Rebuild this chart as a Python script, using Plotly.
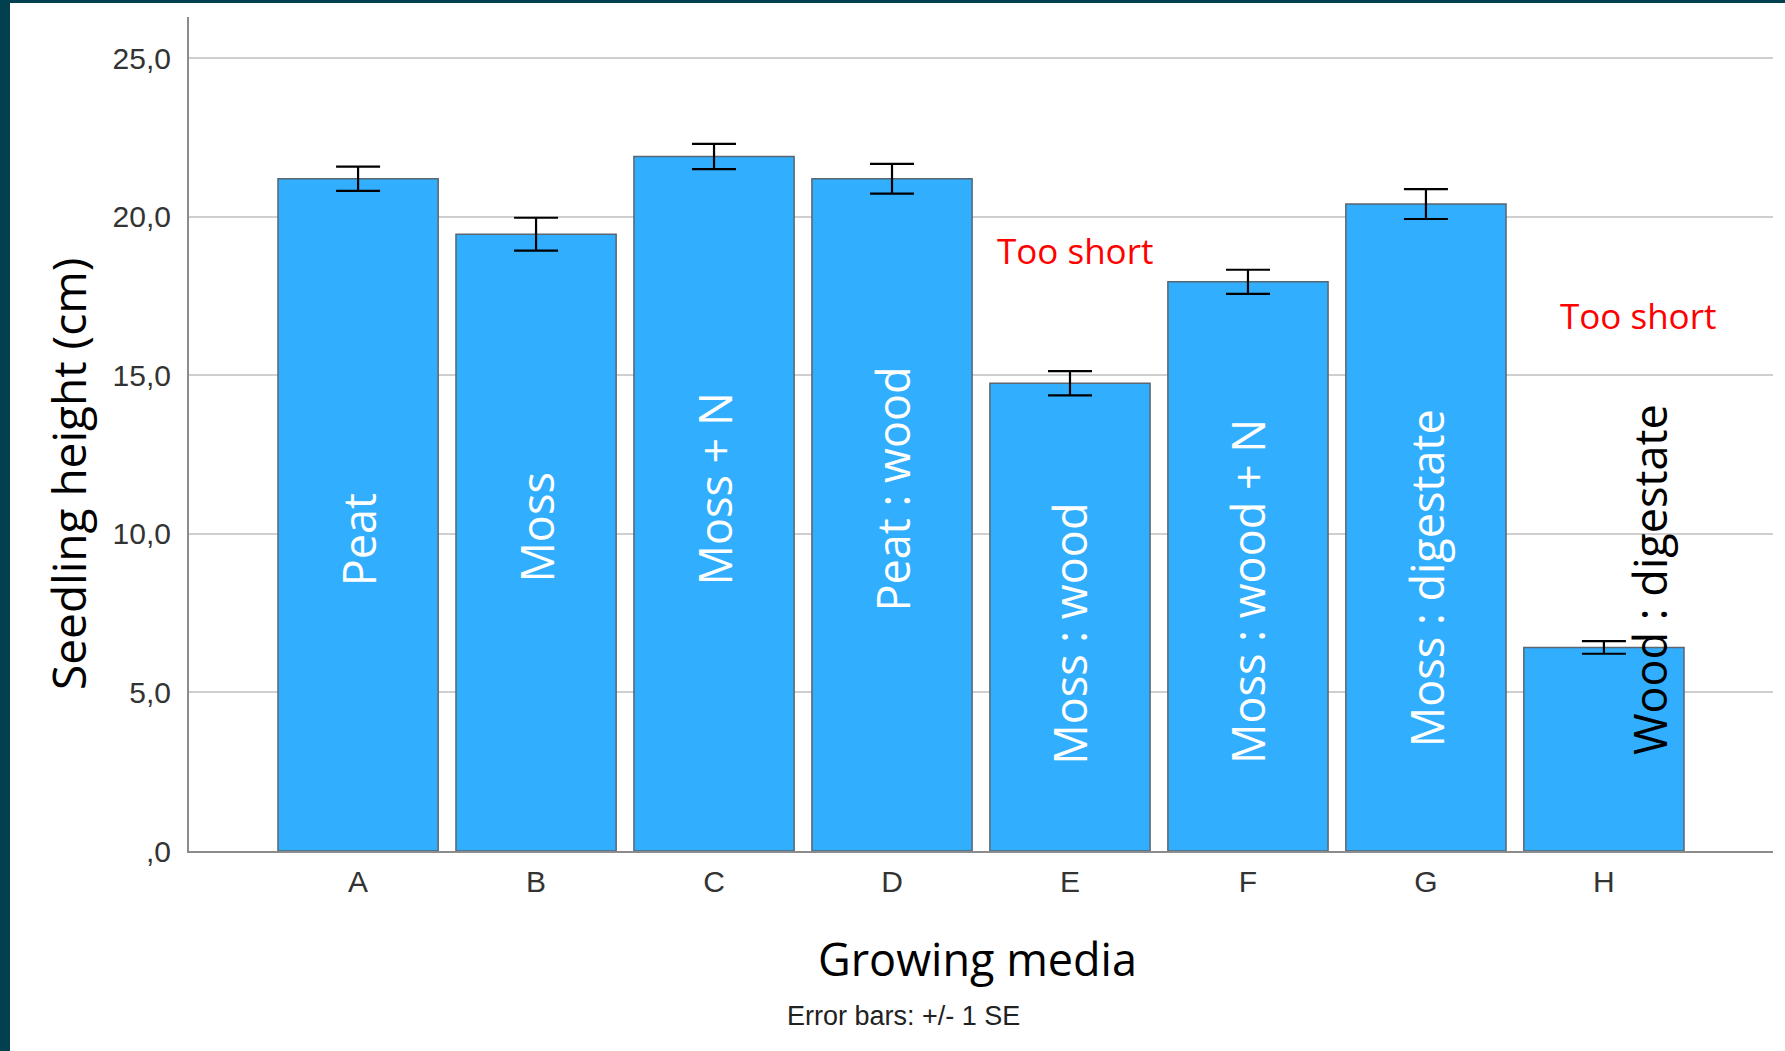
import plotly.graph_objects as go

categories = ["A", "B", "C", "D", "E", "F", "G", "H"]
heights = [21.2, 19.45, 21.9, 21.2, 14.75, 17.95, 20.4, 6.42]
se = [0.38, 0.52, 0.40, 0.47, 0.38, 0.38, 0.47, 0.20]
media_labels = ["Peat", "Moss", "Moss + N", "Peat : wood", "Moss : wood",
                "Moss : wood + N", "Moss : digestate", "Wood : digestate"]
label_y = [9.8, 10.2, 11.4, 11.4, 6.85, 8.2, 8.6, 8.55]
label_x_shift = [0, 0, 0, 0, 0, 0, 0, 0.26]
label_colors = ["white"] * 7 + ["black"]
note_text = ["Too short", "Too short"]
note_x = [4.03, 7.19]
note_y = [18.95, 16.9]
ytick_vals = [0, 5, 10, 15, 20, 25]
ytick_text = [",0", "5,0", "10,0", "15,0", "20,0", "25,0"]

W, H = 1785, 1051
ml, mr, mt, mb = 189, 12, 17, 200
pw, ph = W - ml - mr, H - mt - mb

fig = go.Figure()
fig.add_trace(go.Bar(
    x=list(range(len(categories))), y=heights,
    marker=dict(color="#31aefe", line=dict(color="#5a6670", width=1.5)),
    error_y=dict(type="data", array=se, visible=True, color="black",
                 thickness=2.2, width=22),
    width=0.9, showlegend=False, hoverinfo="skip",
))

for i, (lab, ly, dx, col) in enumerate(zip(media_labels, label_y, label_x_shift, label_colors)):
    fig.add_annotation(x=i + dx, y=ly, text=lab, textangle=-90, showarrow=False,
                       font=dict(family="Open Sans", size=45, color=col),
                       xref="x", yref="y")

for t, nx, ny in zip(note_text, note_x, note_y):
    fig.add_annotation(x=nx, y=ny, text=t, showarrow=False,
                       font=dict(family="Open Sans", size=35, color="#ff0000"),
                       xref="x", yref="y")

def px2paper_x(p):
    return (p - ml) / pw

def px2paper_y(p):
    return (H - mb - p) / ph

border = "#01404f"
fig.add_shape(type="rect", xref="paper", yref="paper", layer="below",
              x0=px2paper_x(0), x1=px2paper_x(10), y0=px2paper_y(H), y1=px2paper_y(0),
              fillcolor=border, line=dict(width=0))
fig.add_shape(type="rect", xref="paper", yref="paper", layer="below",
              x0=px2paper_x(0), x1=px2paper_x(W), y0=px2paper_y(3), y1=px2paper_y(0),
              fillcolor=border, line=dict(width=0))

fig.add_annotation(text="Error bars: +/- 1 SE", xref="paper", yref="paper",
                   x=px2paper_x(903), y=px2paper_y(1016), showarrow=False,
                   xanchor="center", yanchor="middle",
                   font=dict(family="Liberation Sans", size=27, color="#222"))
fig.add_annotation(text="Growing media", xref="paper", yref="paper",
                   x=px2paper_x(977), y=px2paper_y(958), showarrow=False,
                   xanchor="center", yanchor="middle",
                   font=dict(family="Open Sans", size=45, color="black"))
fig.add_annotation(text="Seedling height (cm)", xref="paper", yref="paper",
                   x=px2paper_x(68), y=px2paper_y(474), showarrow=False, textangle=-90,
                   xanchor="center", yanchor="middle",
                   font=dict(family="Open Sans", size=46, color="black"))

fig.update_layout(
    width=W, height=H,
    margin=dict(l=ml, r=mr, t=mt, b=mb),
    paper_bgcolor="white", plot_bgcolor="white",
    bargap=0.1,
    xaxis=dict(
        range=[-0.95, 7.95], tickmode="array",
        tickvals=list(range(len(categories))), ticktext=categories,
        showgrid=False, showline=True, linecolor="#8c8c8c", linewidth=2,
        ticks="", ticklabelstandoff=3,
        tickfont=dict(family="Liberation Sans", size=30, color="#333"),
        zeroline=False,
    ),
    yaxis=dict(
        range=[0, 26.3], tickmode="array", tickvals=ytick_vals, ticktext=ytick_text,
        showgrid=True, gridcolor="#cfcfcf", gridwidth=1.5,
        showline=True, linecolor="#8c8c8c", linewidth=2,
        ticks="", ticklabelstandoff=10,
        tickfont=dict(family="Liberation Sans", size=30, color="#333"),
        zeroline=False,
    ),
)

fig.write_html("out.html")
